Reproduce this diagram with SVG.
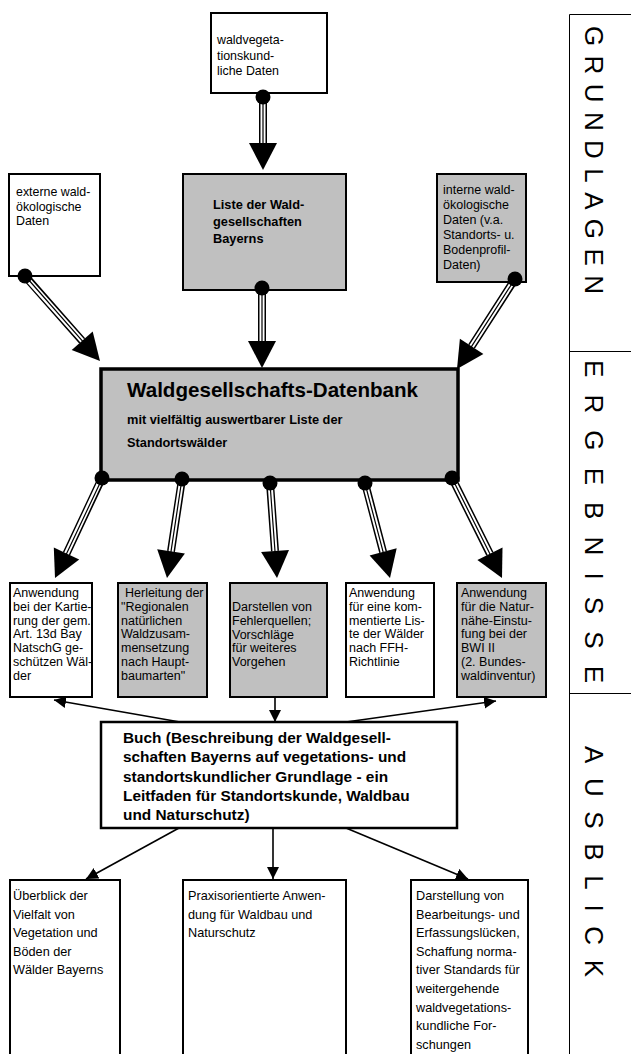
<svg xmlns="http://www.w3.org/2000/svg" width="631" height="1054" viewBox="0 0 631 1054">
<style>
.bx{fill:#fff;stroke:#000;stroke-width:2}
.g{fill:#c0c0c0}
.t{font-family:"Liberation Sans",Arial,sans-serif;fill:#000}
.r12{font-size:12.4px}
.r125{font-size:12.5px}
.r127{font-size:12.7px}
.b{font-weight:bold}
.s1{stroke:#000;stroke-width:8;fill:none}
.s2{stroke:#fff;stroke-width:5;fill:none}
.s3{stroke:#000;stroke-width:1.2;fill:none}
.thin{stroke:#000;stroke-width:1.6;fill:none;marker-end:url(#ah)}
.side{font-family:"Liberation Sans",Arial,sans-serif;font-size:26px;fill:#000}
.fr{stroke:#000;stroke-width:1;fill:none}
</style>
<defs>
<marker id="ah" markerUnits="userSpaceOnUse" markerWidth="13" markerHeight="13" refX="12" refY="6" orient="auto">
<path d="M0,0 L12,6 L0,12 z" fill="#000"/>
</marker>
</defs>

<g id="sidebar">
<path class="fr" d="M569.5,1054 V14.5 H631 M569.5,351.5 H631 M569.5,693.5 H631"/>
<text class="side" transform="translate(584.5,26) rotate(90)" textLength="268" lengthAdjust="spacing">GRUNDLAGEN</text>
<text class="side" transform="translate(584.5,360) rotate(90)" textLength="323" lengthAdjust="spacing">ERGEBNISSE</text>
<text class="side" transform="translate(584.5,746) rotate(90)" textLength="231" lengthAdjust="spacing">AUSBLICK</text>
</g>

<g id="n-waldveg">
<rect class="bx" x="211" y="13" width="116" height="80"/>
<text class="t r12" x="217" y="44">waldvegeta-<tspan x="217" dy="15.5">tionskund-</tspan><tspan x="217" dy="15.5">liche Daten</tspan></text>
</g>

<g id="n-extern">
<rect class="bx" x="9" y="174" width="91" height="102"/>
<text class="t r12" x="16" y="196">externe wald-<tspan x="16" dy="14.5">ökologische</tspan><tspan x="16" dy="14.5">Daten</tspan></text>
</g>

<g id="n-liste">
<rect class="bx g" x="183" y="174" width="163" height="116"/>
<text class="t b" font-size="12.8" x="213" y="209">Liste der Wald-<tspan x="213" dy="17">gesellschaften</tspan><tspan x="213" dy="17">Bayerns</tspan></text>
</g>

<g id="n-intern">
<rect class="bx g" x="437" y="174" width="89" height="108"/>
<text class="t r125" x="443" y="194">interne wald-<tspan x="443" dy="15">ökologische</tspan><tspan x="443" dy="15">Daten (v.a.</tspan><tspan x="443" dy="15">Standorts- u.</tspan><tspan x="443" dy="15">Bodenprofil-</tspan><tspan x="443" dy="15">Daten)</tspan></text>
</g>

<g id="n-datenbank">
<rect class="bx g" x="101" y="369" width="357" height="111" style="stroke-width:3.5"/>
<text class="t b" font-size="20.6" x="127" y="397">Waldgesellschafts-Datenbank</text>
<text class="t b" font-size="12.8" x="127" y="424">mit vielfältig auswertbarer Liste der<tspan x="127" dy="23">Standortswälder</tspan></text>
</g>

<g id="n-kartierung">
<rect class="bx" x="10" y="583" width="82" height="114"/>
<text class="t r125" x="13" y="597">Anwendung<tspan x="13" dy="13.8">bei der Kartie-</tspan><tspan x="13" dy="13.8">rung der gem.</tspan><tspan x="13" dy="13.8">Art. 13d Bay</tspan><tspan x="13" dy="13.8">NatschG ge-</tspan><tspan x="13" dy="13.8">schützen Wäl-</tspan><tspan x="13" dy="13.8">der</tspan></text>
</g>

<g id="n-herleitung">
<rect class="bx g" x="118" y="583" width="89" height="114"/>
<text class="t r125" x="125" y="597">Herleitung der<tspan x="121" dy="13.8">"Regionalen</tspan><tspan x="121" dy="13.8">natürlichen</tspan><tspan x="121" dy="13.8">Waldzusam-</tspan><tspan x="121" dy="13.8">mensetzung</tspan><tspan x="121" dy="13.8">nach Haupt-</tspan><tspan x="121" dy="13.8">baumarten"</tspan></text>
</g>

<g id="n-fehler">
<rect class="bx g" x="230" y="583" width="97" height="114"/>
<text class="t r125" x="232" y="611">Darstellen von<tspan x="232" dy="13.8">Fehlerquellen;</tspan><tspan x="232" dy="13.8">Vorschläge</tspan><tspan x="232" dy="13.8">für weiteres</tspan><tspan x="232" dy="13.8">Vorgehen</tspan></text>
</g>

<g id="n-ffh">
<rect class="bx" x="346" y="583" width="88" height="114"/>
<text class="t r125" x="349" y="597">Anwendung<tspan x="349" dy="13.8">für eine kom-</tspan><tspan x="349" dy="13.8">mentierte Lis-</tspan><tspan x="349" dy="13.8">te der Wälder</tspan><tspan x="349" dy="13.8">nach FFH-</tspan><tspan x="349" dy="13.8">Richtlinie</tspan></text>
</g>

<g id="n-bwi">
<rect class="bx g" x="457" y="583" width="89" height="114"/>
<text class="t r125" x="461" y="597">Anwendung<tspan x="461" dy="13.8">für die Natur-</tspan><tspan x="461" dy="13.8">nähe-Einstu-</tspan><tspan x="461" dy="13.8">fung bei der</tspan><tspan x="461" dy="13.8">BWI II</tspan><tspan x="461" dy="13.8">(2. Bundes-</tspan><tspan x="461" dy="13.8">waldinventur)</tspan></text>
</g>

<g id="n-buch">
<rect class="bx" x="101" y="722" width="356" height="106" style="stroke-width:2.5"/>
<text class="t b" font-size="15.4" x="123" y="743">Buch (Beschreibung der Waldgesell-<tspan x="123" dy="19.3">schaften Bayerns auf vegetations- und</tspan><tspan x="123" dy="19.3">standortskundlicher Grundlage - ein</tspan><tspan x="123" dy="19.3">Leitfaden für Standortskunde, Waldbau</tspan><tspan x="123" dy="19.3">und Naturschutz)</tspan></text>
</g>

<g id="n-ueberblick">
<rect class="bx" x="10" y="880" width="110" height="200"/>
<text class="t r127" x="13" y="900">Überblick der<tspan x="13" dy="18.6">Vielfalt von</tspan><tspan x="13" dy="18.6">Vegetation und</tspan><tspan x="13" dy="18.6">Böden der</tspan><tspan x="13" dy="18.6">Wälder Bayerns</tspan></text>
</g>

<g id="n-praxis">
<rect class="bx" x="183" y="880" width="163" height="200"/>
<text class="t r127" x="188" y="900">Praxisorientierte Anwen-<tspan x="188" dy="18.6">dung für Waldbau und</tspan><tspan x="188" dy="18.6">Naturschutz</tspan></text>
</g>

<g id="n-luecken">
<rect class="bx" x="411" y="880" width="117" height="200"/>
<text class="t r127" x="416" y="900">Darstellung von<tspan x="416" dy="18.6">Bearbeitungs- und</tspan><tspan x="416" dy="18.6">Erfassungslücken,</tspan><tspan x="416" dy="18.6">Schaffung norma-</tspan><tspan x="416" dy="18.6">tiver Standards für</tspan><tspan x="416" dy="18.6">weitergehende</tspan><tspan x="416" dy="18.6">waldvegetations-</tspan><tspan x="416" dy="18.6">kundliche For-</tspan><tspan x="416" dy="18.6">schungen</tspan></text>
</g>

<g id="connectors">
<g>
<path class="s1" d="M263,97 L263,143 M25,276 L82.2,340.8 M262,288 L262,341 M515,279 L471.6,346.3 M102,478 L66.5,553.6 M182,479 L171,551.3 M270,483 L275,551.1 M365,483 L383.1,551.9 M452,478 L489.9,553.9"/>
<path class="s2" d="M263,103 L263,144 M29,281 L83.2,341.9 M262,294 L262,342 M511,285 L470.8,347.6 M99,484 L65.9,554.9 M181,485 L170.8,552.8 M270.5,489 L275.1,552.6 M366.5,489 L383.5,553.3 M455,484 L490.6,555.2"/>
<path class="s3" d="M263,100 L263,144 M27,278 L83.2,341.9 M262,291 L262,342 M513,282 L470.8,347.6 M101,481 L65.9,554.9 M181.5,482 L170.8,552.8 M270.2,486 L275.1,552.6 M365.7,486 L383.5,553.3 M453.5,481 L490.6,555.2"/>
<circle cx="263" cy="97" r="7.5"/>
<circle cx="25" cy="276" r="7.5"/>
<circle cx="262" cy="288" r="7.5"/>
<circle cx="515" cy="279" r="7.5"/>
<circle cx="102" cy="478" r="7.5"/>
<circle cx="182" cy="479" r="7.5"/>
<circle cx="270" cy="483" r="7.5"/>
<circle cx="365" cy="483" r="7.5"/>
<circle cx="452" cy="478" r="7.5"/>
<polygon points="249,143 277,143 263,170"/>
<polygon points="71.7,350 92.7,331.5 100,361"/>
<polygon points="248,341 276,341 262,368"/>
<polygon points="459.9,338.7 483.4,353.9 457,369"/>
<polygon points="53.8,547.6 79.2,559.5 55,578"/>
<polygon points="157.2,549.2 184.9,553.4 167,578"/>
<polygon points="261.1,552.1 289,550 277,578"/>
<polygon points="369.6,555.5 396.7,548.3 390,578"/>
<polygon points="477.4,560.1 502.5,547.6 502,578"/>
</g>
<g>
<line class="thin" x1="180" y1="722" x2="54" y2="700"/>
<line class="thin" x1="275" y1="697" x2="275" y2="722"/>
<line class="thin" x1="346" y1="722" x2="496" y2="701"/>
<line class="thin" x1="179" y1="828" x2="86" y2="879"/>
<line class="thin" x1="273" y1="828" x2="273" y2="879"/>
<line class="thin" x1="346" y1="828" x2="468" y2="879"/>
</g>
</g>
</svg>
